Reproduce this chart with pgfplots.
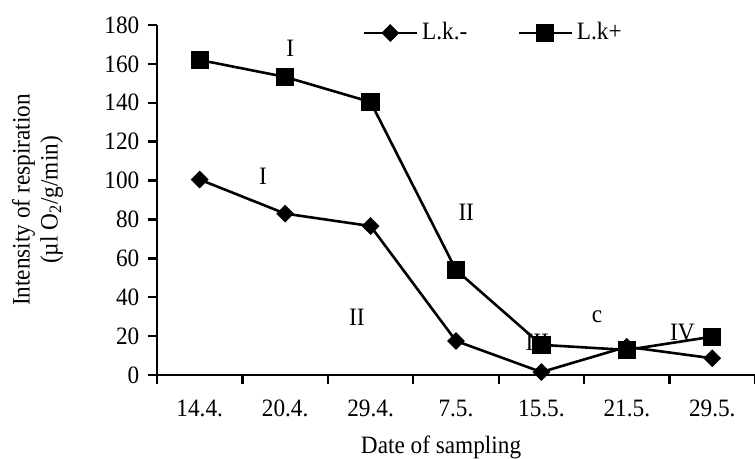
\documentclass[border=0pt]{standalone}
\usepackage{fontspec}
\setmainfont{Liberation Serif}[FakeStretch=0.93]
\usepackage{pgfplots}
\pgfplotsset{compat=1.18}
\begin{document}
\fontsize{12.5}{14}\selectfont
\begin{tikzpicture}
\path[use as bounding box] (-78.5pt,-42pt) rectangle (299pt,187.5pt);
\begin{axis}[
  at={(0,0)}, anchor=south west,
  scale only axis, width=299pt, height=175pt,
  xmin=-0.5, xmax=6.5, ymin=0, ymax=180,
  axis lines=left,
  axis line style={-, line width=1.2pt},
  every tick/.style={black, line width=1.2pt},
  tick align=outside,
  major tick length=4.5pt,
  xtick={-0.5,0.5,...,6.5},
  xticklabels={,,,,,,,,},
  extra x ticks={0,1,2,3,4,5,6},
  extra x tick labels={14.4.,20.4.,29.4.,7.5.,15.5.,21.5.,29.5.},
  extra x tick style={major tick length=0pt, xticklabel style={anchor=north}, xticklabel shift=8pt},
  ytick={0,20,...,180},
  yticklabel style={anchor=east},
  /pgf/number format/assume math mode=true,
  xlabel={Date of sampling},
  xlabel style={at={(axis description cs:0.475,0)}, anchor=center, yshift=-36pt},
  ylabel={Intensity of respiration\\(µl O\textsubscript{2}/g/min)},
  ylabel style={align=center, at={(axis description cs:-0.2,0.5)}, anchor=center},
  legend style={at={(rel axis cs:0.343,0.977)}, anchor=west, draw=none, fill=none, inner sep=0pt,
    /tikz/every even column/.append style={column sep=23pt}},
  legend columns=2,
  legend image code/.code={\draw[mark repeat=2, mark phase=2] plot coordinates {(0pt,0pt) (13.25pt,0pt) (26.5pt,0pt)};},
  clip=false,
]
\node at (axis cs:1.06,168) {I};
\node at (axis cs:0.74,102.3) {I};
\node at (axis cs:3.12,83.8) {II};
\node at (axis cs:1.84,29.8) {II};
\node at (axis cs:3.95,17) {III};
\node at (axis cs:4.65,29.8) {c};
\node at (axis cs:5.65,22) {IV};
\addplot[black, line width=1.3pt, mark=square*, mark size=2.5pt, mark options={rotate=45, solid}]
  coordinates {(0,100.5) (1,83) (2,76.6) (3,17.5) (4,1.5) (5,14.5) (6,8.6)};
\addlegendentry{L.k.-}
\addplot[black, line width=1.3pt, mark=square*, mark size=3.9pt, mark options={solid}]
  coordinates {(0,162) (1,153.3) (2,140.4) (3,54) (4,15.5) (5,12.9) (6,19.7)};
\addlegendentry{L.k+}
\end{axis}
\end{tikzpicture}
\end{document}
